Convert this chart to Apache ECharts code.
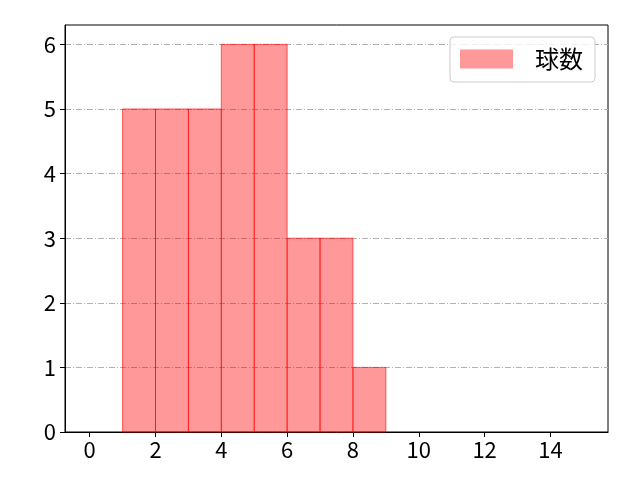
<!DOCTYPE html>
<html><head><meta charset="utf-8">
<script src="https://cdn.jsdelivr.net/npm/echarts@6/dist/echarts.min.js"></script>
<style>html,body{margin:0;padding:0;background:#fff}#c{width:640px;height:480px}</style>
</head><body><div id="c"></div>
<script>
const binEdges = [1,2,3,4,5,6,7,8,9];
const counts = [5,5,5,6,6,3,3,1];
const xTicks = [0,2,4,6,8,10,12,14];
const yTicks = [0,1,2,3,4,5,6];
const seriesName = '球数';

const data = counts.map((c,i)=>[binEdges[i], binEdges[i+1], c]);
const FONT = '"Noto Sans CJK JP", "DejaVu Sans", sans-serif';
const chart = echarts.init(document.getElementById('c'));
chart.setOption({
  animation:false,
  grid:{left:65,right:32,top:25,bottom:48,show:true,borderColor:'#000',borderWidth:1,backgroundColor:'transparent'},
  legend:{
    show:true, right:45, top:37, orient:'vertical',
    data:[seriesName],
    itemWidth:53, itemHeight:19, itemGap:0,
    padding:[10,12,11,10],
    borderColor:'#ccc', borderWidth:1, borderRadius:4, backgroundColor:'rgba(255,255,255,0.8)',
    textStyle:{fontFamily:FONT,fontSize:24,lineHeight:24,color:'#000',padding:[0,0,0,17]},
    icon:'rect'
  },
  xAxis:{
    type:'value', min:-0.75, max:15.75,
    axisLine:{show:true,onZero:false,lineStyle:{color:'#000',width:1}},
    axisTick:{show:true,length:5,lineStyle:{color:'#000'},customValues:xTicks},
    axisLabel:{customValues:xTicks,fontFamily:FONT,fontSize:22,color:'#000',margin:7},
    splitLine:{show:false}
  },
  yAxis:{
    type:'value', min:0, max:6.3, interval:1,
    axisLine:{show:true,onZero:false,lineStyle:{color:'#000',width:1}},
    axisTick:{show:true,length:5,lineStyle:{color:'#000'},customValues:yTicks},
    axisLabel:{customValues:yTicks,fontFamily:FONT,fontSize:22,color:'#000',margin:9},
    splitLine:{show:true,lineStyle:{color:'#b0b0b0',width:1,type:[6,2,1,2]}}
  },
  series:[{
    name:seriesName, type:'custom',
    itemStyle:{color:'rgba(255,0,0,0.4)',borderColor:'rgba(255,0,0,0.6)'},
    renderItem:function(params,api){
      const p0 = api.coord([api.value(0),0]);
      const p1 = api.coord([api.value(1),api.value(2)]);
      return {type:'rect',shape:{x:p0[0],y:p1[1],width:p1[0]-p0[0],height:p0[1]-p1[1]},
        style:{fill:'rgba(255,0,0,0.4)',stroke:'rgba(255,0,0,0.6)',lineWidth:1}};
    },
    encode:{x:[0,1],y:2},
    data:data
  }]
});
</script></body></html>
